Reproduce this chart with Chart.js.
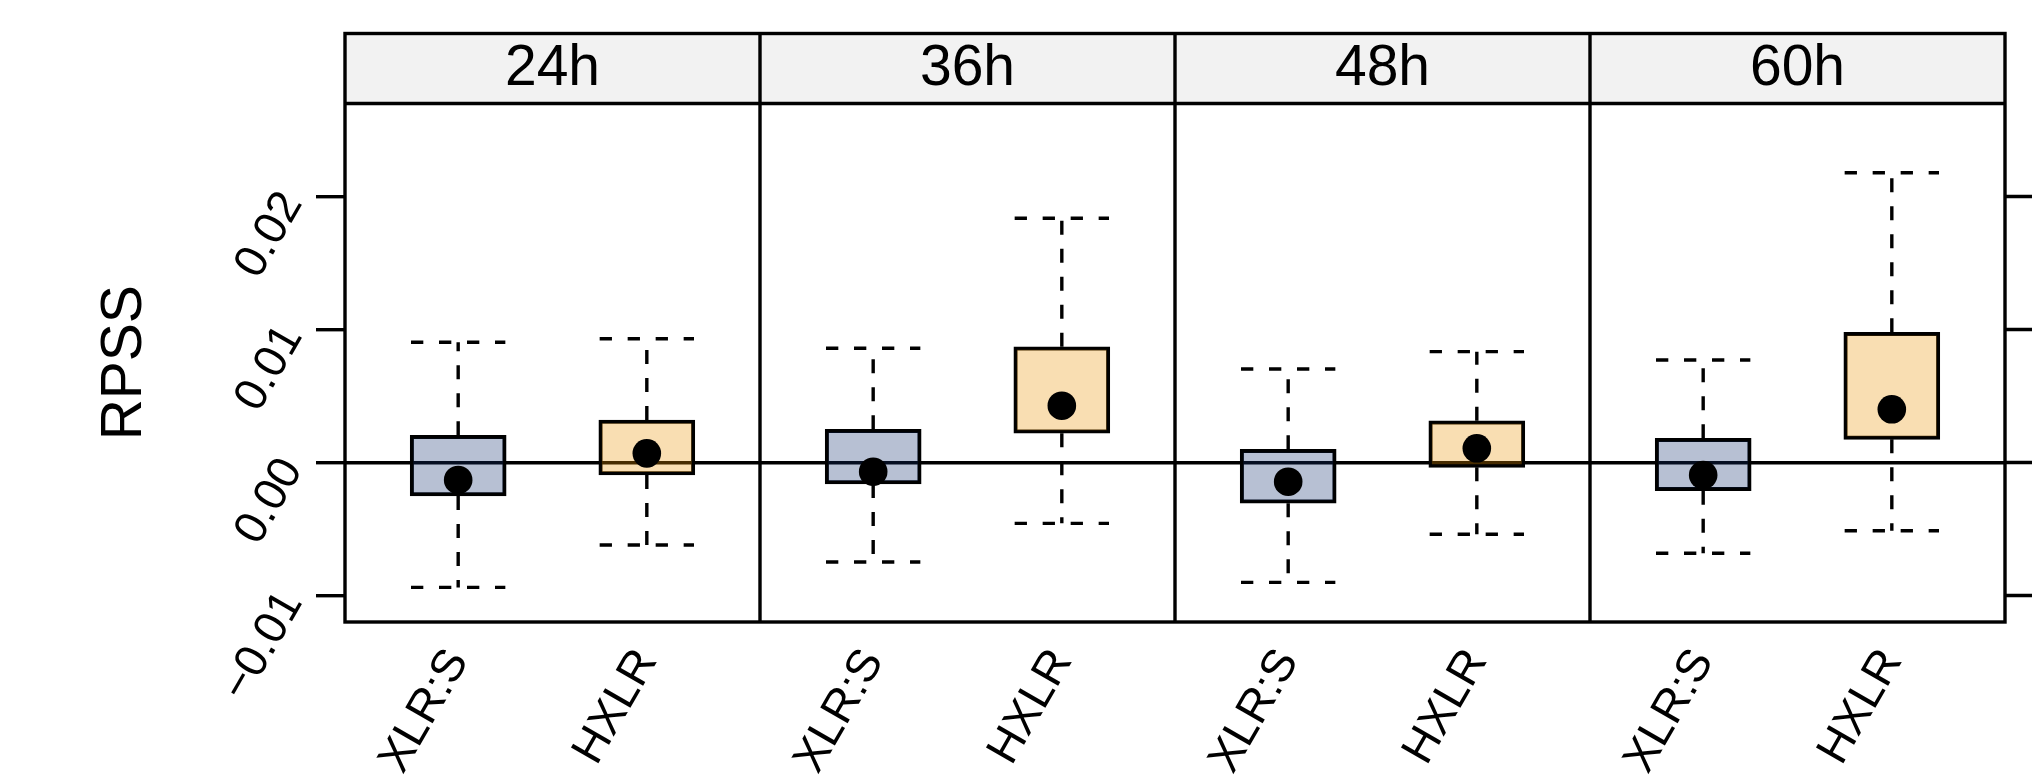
<!DOCTYPE html>
<html>
<head>
<meta charset="utf-8">
<title>RPSS by lead time</title>
<script src="https://cdn.jsdelivr.net/npm/chart.js@4.4.1/dist/chart.umd.min.js"></script>
<style>
  html, body { margin: 0; padding: 0; background: #ffffff; }
  #wrap { width: 2032px; height: 775px; }
</style>
</head>
<body>
<div id="wrap"><canvas id="rpss" width="2032" height="775"></canvas></div>
<script>
// Panels (lead times) and the two methods compared inside each panel
const leadTimes = ['24h', '36h', '48h', '60h'];
const methods = ['XLR:S', 'HXLR'];

// Box-and-whisker statistics of RPSS, one entry per lead time
const xlrsMin    = [-0.00937, -0.00746, -0.00899, -0.00681];
const xlrsQ1     = [-0.00250, -0.00160, -0.00305, -0.00211];
const xlrsMedian = [-0.00130, -0.00068, -0.00143, -0.00093];
const xlrsQ3     = [ 0.00205,  0.00251,  0.00100,  0.00183];
const xlrsMax    = [ 0.00904,  0.00859,  0.00704,  0.00771];

const hxlrMin    = [-0.00619, -0.00456, -0.00538, -0.00511];
const hxlrQ1     = [-0.00093,  0.00221, -0.00035,  0.00175];
const hxlrMedian = [ 0.00070,  0.00428,  0.00108,  0.00401];
const hxlrQ3     = [ 0.00320,  0.00871,  0.00315,  0.00979];
const hxlrMax    = [ 0.00931,  0.01836,  0.00834,  0.02178];

// Value axis
const yTicks = [-0.01, 0.00, 0.01, 0.02];
const yMin = -0.01197;
const yMax = 0.02698;

// Each panel spans 2.2 units on the shared x axis: methods sit at 1 and 2, edges at 0.4 and 2.6
const PANEL_SPAN = 2.2;
const PANEL_LO = 0.4;
const BOX_HALF = 0.25;
const STRIP_H = 70;
const LW = 3.4;
const FONT = '"Liberation Sans", Arial, Helvetica, sans-serif';

const stats = [
  { min: xlrsMin, q1: xlrsQ1, med: xlrsMedian, q3: xlrsQ3, max: xlrsMax },
  { min: hxlrMin, q1: hxlrQ1, med: hxlrMedian, q3: hxlrQ3, max: hxlrMax }
];
const boxFill = ['rgba(15, 45, 108, 0.3)', 'rgba(235, 145, 0, 0.3)'];

const records = [];
leadTimes.forEach((lt, p) => {
  methods.forEach((m, k) => {
    const s = stats[k];
    records.push({
      x: p * PANEL_SPAN + 1 + k, k,
      min: s.min[p], q1: s.q1[p], med: s.med[p], q3: s.q3[p], max: s.max[p]
    });
  });
});
const xPositions = records.map(r => r.x);

// Dashed whiskers run from the box edge out to the extreme
const whiskerData = [];
records.forEach(r => {
  whiskerData.push({ x: r.x, y: r.q3 }, { x: r.x, y: r.max }, { x: r.x, y: null });
  whiskerData.push({ x: r.x, y: r.q1 }, { x: r.x, y: r.min }, { x: r.x, y: null });
});
const capData = [];
records.forEach(r => {
  capData.push({ x: r.x - BOX_HALF, y: r.max }, { x: r.x + BOX_HALF, y: r.max }, { x: r.x + BOX_HALF, y: null });
  capData.push({ x: r.x - BOX_HALF, y: r.min }, { x: r.x + BOX_HALF, y: r.min }, { x: r.x + BOX_HALF, y: null });
});

const fmt = v => {
  const s = Math.abs(v).toFixed(2);
  return v < -1e-12 ? '\u2212' + s : s;
};

// Strips with the lead time, panel frame and panel separators
const panelFrame = {
  id: 'panelFrame',
  afterDraw(chart) {
    const { ctx, chartArea: a, scales: { x } } = chart;
    const top = a.top - STRIP_H;
    ctx.save();
    leadTimes.forEach((lt, p) => {
      const l = x.getPixelForValue(p * PANEL_SPAN + PANEL_LO);
      const r = x.getPixelForValue((p + 1) * PANEL_SPAN + PANEL_LO);
      ctx.fillStyle = '#f2f2f2';
      ctx.fillRect(l, top, r - l, STRIP_H);
      ctx.fillStyle = '#000000';
      ctx.font = '57px ' + FONT;
      ctx.textAlign = 'center';
      ctx.textBaseline = 'middle';
      ctx.fillText(lt, (l + r) / 2, top + STRIP_H / 2 + 1);
    });
    ctx.strokeStyle = '#000000';
    ctx.lineWidth = LW;
    ctx.strokeRect(a.left, top, a.right - a.left, a.bottom - top);
    ctx.beginPath();
    ctx.moveTo(a.left, a.top);
    ctx.lineTo(a.right, a.top);
    for (let p = 1; p < leadTimes.length; p++) {
      const xp = x.getPixelForValue(p * PANEL_SPAN + PANEL_LO);
      ctx.moveTo(xp, top);
      ctx.lineTo(xp, a.bottom);
    }
    ctx.stroke();
    ctx.restore();
  }
};

Chart.defaults.font.family = FONT;
Chart.defaults.color = '#000000';

new Chart(document.getElementById('rpss'), {
  type: 'bar',
  data: {
    datasets: [
      {
        type: 'line',
        label: 'median',
        data: records.map(r => ({ x: r.x, y: r.med })),
        showLine: false,
        pointRadius: 14.3,
        pointBackgroundColor: '#000000',
        pointBorderColor: '#000000',
        pointBorderWidth: 0,
        order: 0
      },
      {
        type: 'line',
        label: 'whiskers',
        data: whiskerData,
        borderColor: '#000000',
        borderWidth: LW,
        borderDash: [14, 14],
        pointRadius: 0,
        tension: 0,
        spanGaps: false,
        fill: false,
        order: 1
      },
      {
        type: 'line',
        label: 'whisker ends',
        data: capData,
        borderColor: '#000000',
        borderWidth: LW,
        borderDash: [12.3, 15.7],
        pointRadius: 0,
        tension: 0,
        spanGaps: false,
        fill: false,
        order: 1
      },
      {
        type: 'bar',
        label: 'interquartile range',
        data: records.map(r => ({ x: r.x, y: [r.q1, r.q3] })),
        backgroundColor: records.map(r => boxFill[r.k]),
        borderColor: '#000000',
        borderWidth: LW,
        borderSkipped: false,
        barThickness: 96,
        order: 2
      }
    ]
  },
  options: {
    responsive: false,
    devicePixelRatio: 1,
    animation: false,
    events: [],
    layout: { padding: { top: 103.5, left: 0, right: 0, bottom: 0 } },
    plugins: {
      legend: { display: false },
      tooltip: { enabled: false }
    },
    scales: {
      x: {
        type: 'linear',
        offset: false,
        min: PANEL_LO,
        max: leadTimes.length * PANEL_SPAN + PANEL_LO,
        bounds: 'data',
        afterBuildTicks: s => { s.ticks = xPositions.map(v => ({ value: v })); },
        afterFit: s => { s.height = 153; },
        grid: { display: false, drawTicks: false, offset: false },
        border: { display: false },
        ticks: {
          autoSkip: false,
          minRotation: 60,
          maxRotation: 60,
          padding: 18,
          color: '#000000',
          font: { size: 46 },
          callback: (v, i) => methods[i % methods.length]
        }
      },
      y: {
        type: 'linear',
        position: 'left',
        min: yMin,
        max: yMax,
        bounds: 'data',
        afterBuildTicks: s => { s.ticks = yTicks.map(v => ({ value: v })); },
        afterFit: s => { s.width = 345; },
        border: { display: false },
        grid: {
          drawOnChartArea: true,
          color: c => (c.tick && Math.abs(c.tick.value) < 1e-12 ? '#000000' : 'rgba(0,0,0,0)'),
          lineWidth: LW,
          drawTicks: true,
          tickLength: 29,
          tickColor: '#000000',
          tickWidth: LW
        },
        ticks: {
          minRotation: 60,
          maxRotation: 60,
          padding: 24,
          color: '#000000',
          font: { size: 46 },
          callback: v => fmt(v)
        },
        title: {
          display: true,
          text: 'RPSS',
          color: '#000000',
          font: { size: 57, lineHeight: 1 },
          padding: { top: 96.5, bottom: 0 }
        }
      },
      y2: {
        type: 'linear',
        position: 'right',
        min: yMin,
        max: yMax,
        bounds: 'data',
        afterBuildTicks: s => { s.ticks = yTicks.map(v => ({ value: v })); },
        afterFit: s => { s.width = 27; },
        border: { display: false },
        grid: {
          drawOnChartArea: false,
          drawTicks: true,
          tickLength: 40,
          tickColor: '#000000',
          tickWidth: LW
        },
        ticks: { display: false }
      }
    }
  },
  plugins: [panelFrame]
});
</script>
</body>
</html>
